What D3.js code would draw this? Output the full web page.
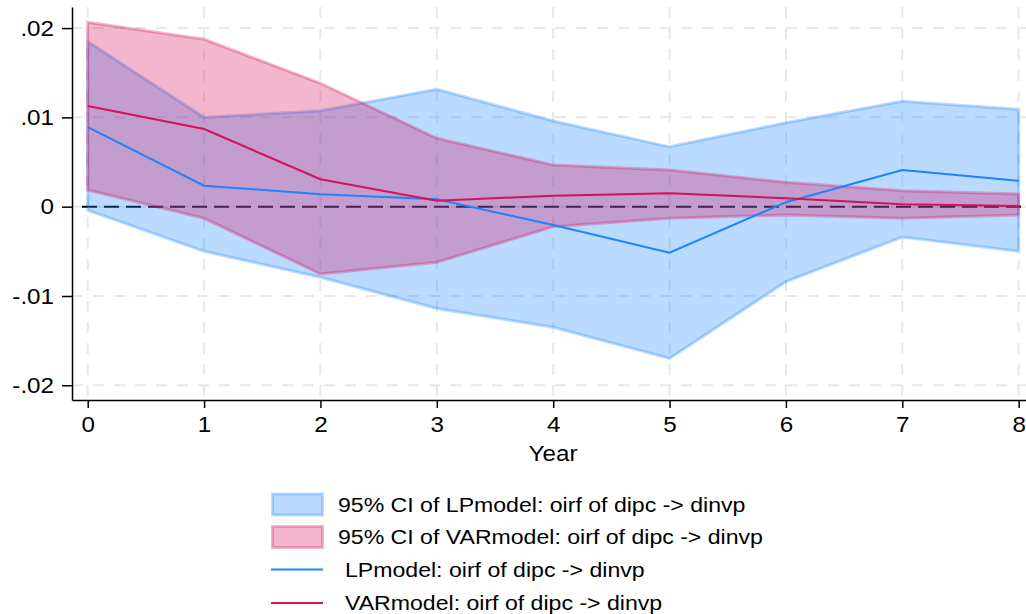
<!DOCTYPE html>
<html>
<head>
<meta charset="utf-8">
<script src="https://cdn.jsdelivr.net/npm/d3@7"></script>
<style>
  body { margin: 0; background: #fff; }
  svg { display: block; font-family: "Liberation Sans", Arial, sans-serif; }
</style>
</head>
<body>
<svg id="irf" width="1026" height="614"></svg>
<script>
/*--- Data ---*/
const years = [0, 1, 2, 3, 4, 5, 6, 7, 8];

// local projection irf and its 95% band
const lpIrf   = [0.0089, 0.00235, 0.0014, 0.00083, -0.00205, -0.00515, 0.0005, 0.0041, 0.0029];
const lpUpper = [0.0185, 0.0100, 0.01075, 0.01315, 0.0096, 0.0067, 0.0094, 0.0118, 0.0109];
const lpLower = [-0.0004, -0.0050, -0.0079, -0.0114, -0.0135, -0.0170, -0.0084, -0.0034, -0.0050];

// VAR irf and its 95% band
const varIrf   = [0.01128, 0.0087, 0.00307, 0.00067, 0.00123, 0.0015, 0.00094, 0.00027, 0.00008];
const varUpper = [0.02065, 0.01875, 0.01382, 0.00766, 0.00467, 0.00411, 0.00273, 0.00179, 0.00142];
const varLower = [0.00187, -0.0013, -0.00754, -0.00623, -0.00224, -0.0013, -0.00093, -0.0013, -0.00093];

const yTicks = [-0.02, -0.01, 0, 0.01, 0.02];
const yTickLabels = ["-.02", "-.01", "0", ".01", ".02"];
const xLabel = "Year";
const legendLabels = [
    "95% CI of LPmodel: oirf of dipc -> dinvp",
    "95% CI of VARmodel: oirf of dipc -> dinvp",
    "LPmodel: oirf of dipc -> dinvp",
    "VARmodel: oirf of dipc -> dinvp"
];

/*--- Setup ---*/
const svg = d3.select("#irf");
const blue = "#1a85ff", red = "#d41159";
const plot = {left: 72, right: 1026, top: 7, bottom: 400};
const stretch = 1.1;   // the text face is a touch wider than Arial

const xScale = d3.scaleLinear()
    .domain([-0.135, 8.063])
    .range([plot.left, plot.right]);
const yScale = d3.scaleLinear()
    .domain([-0.02165, 0.02236])
    .range([plot.bottom, plot.top]);

/*--- Grid ---*/
const grid = svg.append("g");
grid.selectAll("line.hgrid")
    .data(yTicks).join("line").attr("class", "hgrid")
    .attr("x1", plot.left).attr("x2", plot.right)
    .attr("y1", d => yScale(d)).attr("y2", d => yScale(d));
grid.selectAll("line.vgrid")
    .data(years).join("line").attr("class", "vgrid")
    .attr("x1", d => xScale(d)).attr("x2", d => xScale(d))
    .attr("y1", plot.top).attr("y2", plot.bottom);
grid.selectAll("line")
    .attr("stroke", "#e8e8e8")
    .attr("stroke-width", 2)
    .attr("stroke-dasharray", "11,10");

// zero reference line sits under the bands
svg.append("line")
    .attr("x1", plot.left + 10).attr("x2", plot.right)
    .attr("y1", yScale(0)).attr("y2", yScale(0))
    .attr("stroke", "#000")
    .attr("stroke-width", 2)
    .attr("stroke-dasharray", "15,7");

/*--- Bands ---*/
function band(lower, upper) {
    return d3.area()
        .x((d, i) => xScale(years[i]))
        .y0((d, i) => yScale(lower[i]))
        .y1((d, i) => yScale(upper[i]))(years);
}

[[lpLower, lpUpper, blue], [varLower, varUpper, red]].forEach(function (b) {
    svg.append("path")
        .attr("d", band(b[0], b[1]))
        .attr("fill", b[2]).attr("fill-opacity", 0.3)
        .attr("stroke", b[2]).attr("stroke-opacity", 0.3)
        .attr("stroke-width", 3)
        .attr("stroke-linejoin", "miter");
});

/*--- Lines ---*/
const line = d3.line().x((d, i) => xScale(years[i])).y(d => yScale(d));
[[lpIrf, blue], [varIrf, red]].forEach(function (s) {
    svg.append("path")
        .datum(s[0])
        .attr("d", line)
        .attr("fill", "none")
        .attr("stroke", s[1])
        .attr("stroke-width", 2);
});

/*--- Axes ---*/
const yAxis = svg.append("g")
    .attr("transform", `translate(${plot.left},0)`)
    .call(d3.axisLeft(yScale)
        .tickValues(yTicks)
        .tickFormat((d, i) => yTickLabels[i])
        .tickSize(10).tickPadding(8)
        .tickSizeOuter(0));
yAxis.selectAll(".tick text")
    .attr("x", -18 / stretch)
    .attr("transform", `scale(${stretch},1)`)
    .attr("font-size", 22)
    .attr("font-family", "Liberation Sans, Arial, sans-serif")
    .attr("fill", "#000");
yAxis.selectAll("line, path").attr("stroke", "#000").attr("stroke-width", 1.5);

const xAxis = svg.append("g")
    .attr("transform", `translate(0,${plot.bottom})`)
    .call(d3.axisBottom(xScale)
        .tickValues(years)
        .tickFormat(d3.format("d"))
        .tickSize(8).tickPadding(8)
        .tickSizeOuter(0));
xAxis.selectAll(".tick text")
    .attr("transform", `scale(${stretch},1)`)
    .attr("font-size", 22)
    .attr("font-family", "Liberation Sans, Arial, sans-serif")
    .attr("fill", "#000");
xAxis.selectAll("line, path").attr("stroke", "#000").attr("stroke-width", 1.5);

svg.append("text")
    .attr("transform", `translate(553,461) scale(${stretch},1)`)
    .attr("text-anchor", "middle")
    .attr("font-size", 22)
    .text(xLabel);

/*--- Legend ---*/
const legend = svg.append("g").attr("transform", "translate(271,0)");
const legendRows = [
    {type: "box", color: blue, y: 504.5},
    {type: "box", color: red, y: 537},
    {type: "line", color: blue, y: 569.5},
    {type: "line", color: red, y: 603}
];
legendRows.forEach(function (r, i) {
    if (r.type === "box") {
        legend.append("rect")
            .attr("x", 1.5).attr("y", r.y - 10.5)
            .attr("width", 50).attr("height", 21)
            .attr("fill", r.color).attr("fill-opacity", 0.3)
            .attr("stroke", r.color).attr("stroke-opacity", 0.3)
            .attr("stroke-width", 3);
    } else {
        legend.append("line")
            .attr("x1", 0).attr("x2", 52)
            .attr("y1", r.y).attr("y2", r.y)
            .attr("stroke", r.color).attr("stroke-width", 2);
    }
    legend.append("text")
        .attr("transform", `translate(${r.type === "box" ? 67 : 74},${r.y}) scale(${stretch},1)`)
        .attr("dy", "0.35em")
        .attr("font-size", 21)
        .text(legendLabels[i]);
});
</script>
</body>
</html>
